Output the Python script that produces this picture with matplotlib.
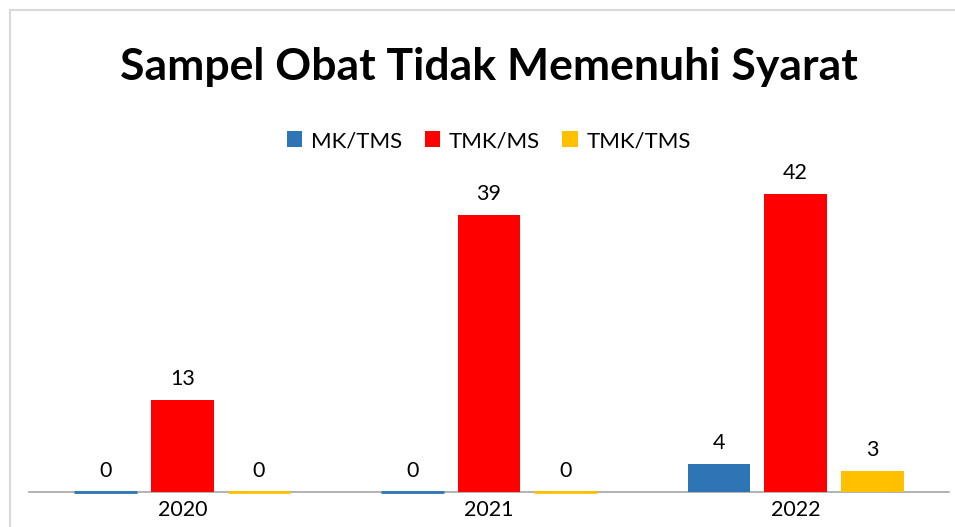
import numpy as np
import matplotlib
matplotlib.use("Agg")
import matplotlib.pyplot as plt
from matplotlib.patches import Rectangle

plt.rcParams['font.family'] = ['Lato', 'DejaVu Sans']

# chart data
years = ['2020', '2021', '2022']
series_names = ['MK/TMS', 'TMK/MS', 'TMK/TMS']
mk_tms = [0, 0, 4]
tmk_ms = [13, 39, 42]
tmk_tms = [0, 0, 3]
colors = ['#2E75B6', '#FF0000', '#FFC000']

fig = plt.figure(figsize=(9.55, 5.27), dpi=100)

# light grey chart border (cropped on right/bottom like the reference)
fig.patches.append(Rectangle((10 / 955, -0.05), 1.1, 1.05 - 10 / 527,
                             transform=fig.transFigure, fill=False,
                             edgecolor='#D9D9D9', linewidth=1.5))

ax = fig.add_axes([29 / 955, 35 / 527, 920 / 955, 320 / 527])

x = np.arange(len(years))
width = 0.205
step = 0.25
for i, (vals, name) in enumerate(zip([mk_tms, tmk_ms, tmk_tms], series_names)):
    pos = x + (i - 1) * step
    ax.bar(pos, vals, width, color=colors[i], label=name, zorder=3)
    for p, v in zip(pos, vals):
        if v == 0:
            # zero-height bars still show as a thin coloured line
            ax.plot([p - width / 2, p + width / 2], [v, v], color=colors[i],
                    lw=2, zorder=4, clip_on=False, solid_capstyle='butt')
        ax.annotate(str(v), (p, v), xytext=(0, 8), textcoords='offset points',
                    ha='center', va='bottom', fontsize=15.5, color='#000000')

ax.set_xlim(-0.5, 2.5)
ax.set_ylim(0, 320 / 7.09)
ax.set_xticks(x)
ax.set_xticklabels(years, fontsize=15.5)
ax.tick_params(axis='x', length=0, pad=6)
ax.set_yticks([])
for s in ['top', 'right', 'left']:
    ax.spines[s].set_visible(False)
ax.spines['bottom'].set_color('#A6A6A6')
ax.spines['bottom'].set_linewidth(1.2)
ax.spines['bottom'].set_zorder(2)

fig.text(489 / 955, 1 - 67 / 527, 'Sampel Obat Tidak Memenuhi Syarat',
         ha='center', va='center', fontsize=32, fontweight='bold')

fig.legend(loc='center', bbox_to_anchor=(489 / 955, 1 - 141 / 527), ncol=3,
           frameon=False, fontsize=16, handlelength=0.7, handleheight=0.7,
           handletextpad=0.4, columnspacing=1.0)

fig.savefig('out.png', dpi=100, facecolor='white')
